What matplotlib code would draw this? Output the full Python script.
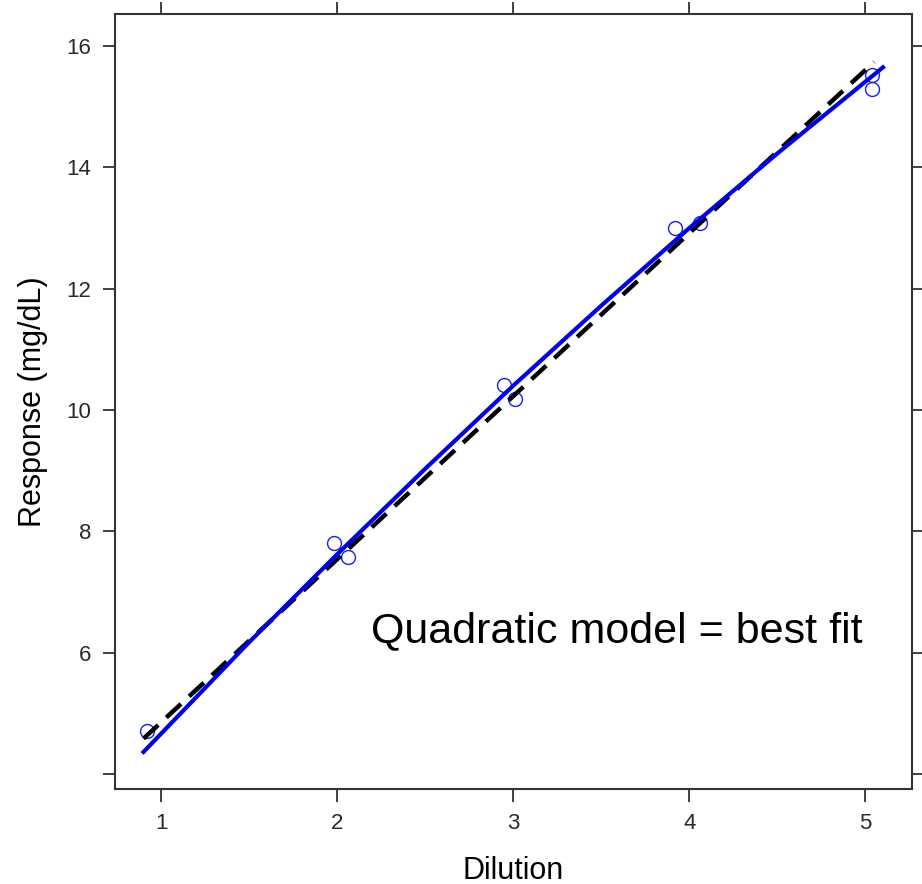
import numpy as np
import matplotlib.pyplot as plt

plt.rcParams['font.family'] = ['Liberation Sans', 'DejaVu Sans']

# Observed data (dilution, response)
dil = [0.92, 1.98, 2.06, 2.95, 3.01, 3.92, 4.06, 5.04, 5.04]
resp = [4.70, 7.81, 7.58, 10.41, 10.18, 13.00, 13.09, 15.29, 15.52]

# quadratic fit curve
quad_x = [0.90, 1.5, 2.0, 2.5, 3.0, 3.5, 4.0, 4.5, 5.10]
quad_y = [4.36, 6.17, 7.62, 9.03, 10.40, 11.72, 13.00, 14.23, 15.65]

# linear fit line
lin_x = [0.90, 5.05]
lin_y = [4.58, 15.74]

xticks = [1, 2, 3, 4, 5]
yticks = [4, 6, 8, 10, 12, 14, 16]
ylabels = ['', '6', '8', '10', '12', '14', '16']

fig = plt.figure(figsize=(9.22, 8.84), dpi=100)
ax = fig.add_axes([0.1247, 0.1075, 0.8645, 0.8767])

ax.plot(dil, resp, 'o', mfc='none', mec='#1a1aff', ms=10, mew=1.0, zorder=2)
ax.plot(lin_x, lin_y, color='black', lw=3.2, ls=(0, (4.5, 2.5)), zorder=3)
ax.plot(quad_x, quad_y, color='#0000ee', lw=3.0, zorder=4)

ax.set_xlim(0.738, 5.265)
ax.set_ylim(3.75, 16.53)
ax.set_xticks(xticks)
ax.set_yticks(yticks)
ax.set_yticklabels(ylabels)

ax.tick_params(axis='both', direction='out', length=9, width=1.3, color='#333333',
               labelsize=16, labelcolor='#2a2a2a', pad=8,
               top=True, right=True)
for s in ax.spines.values():
    s.set_color('#333333')
    s.set_linewidth(1.5)

ax.set_xlabel('Dilution', fontsize=22, labelpad=16)
ax.set_ylabel('Response (mg/dL)', fontsize=22, labelpad=13)

ax.text(2.19, 6.35, 'Quadratic model = best fit', fontsize=31, color='black',
        va='center', ha='left')

plt.savefig('out.png', dpi=100)
